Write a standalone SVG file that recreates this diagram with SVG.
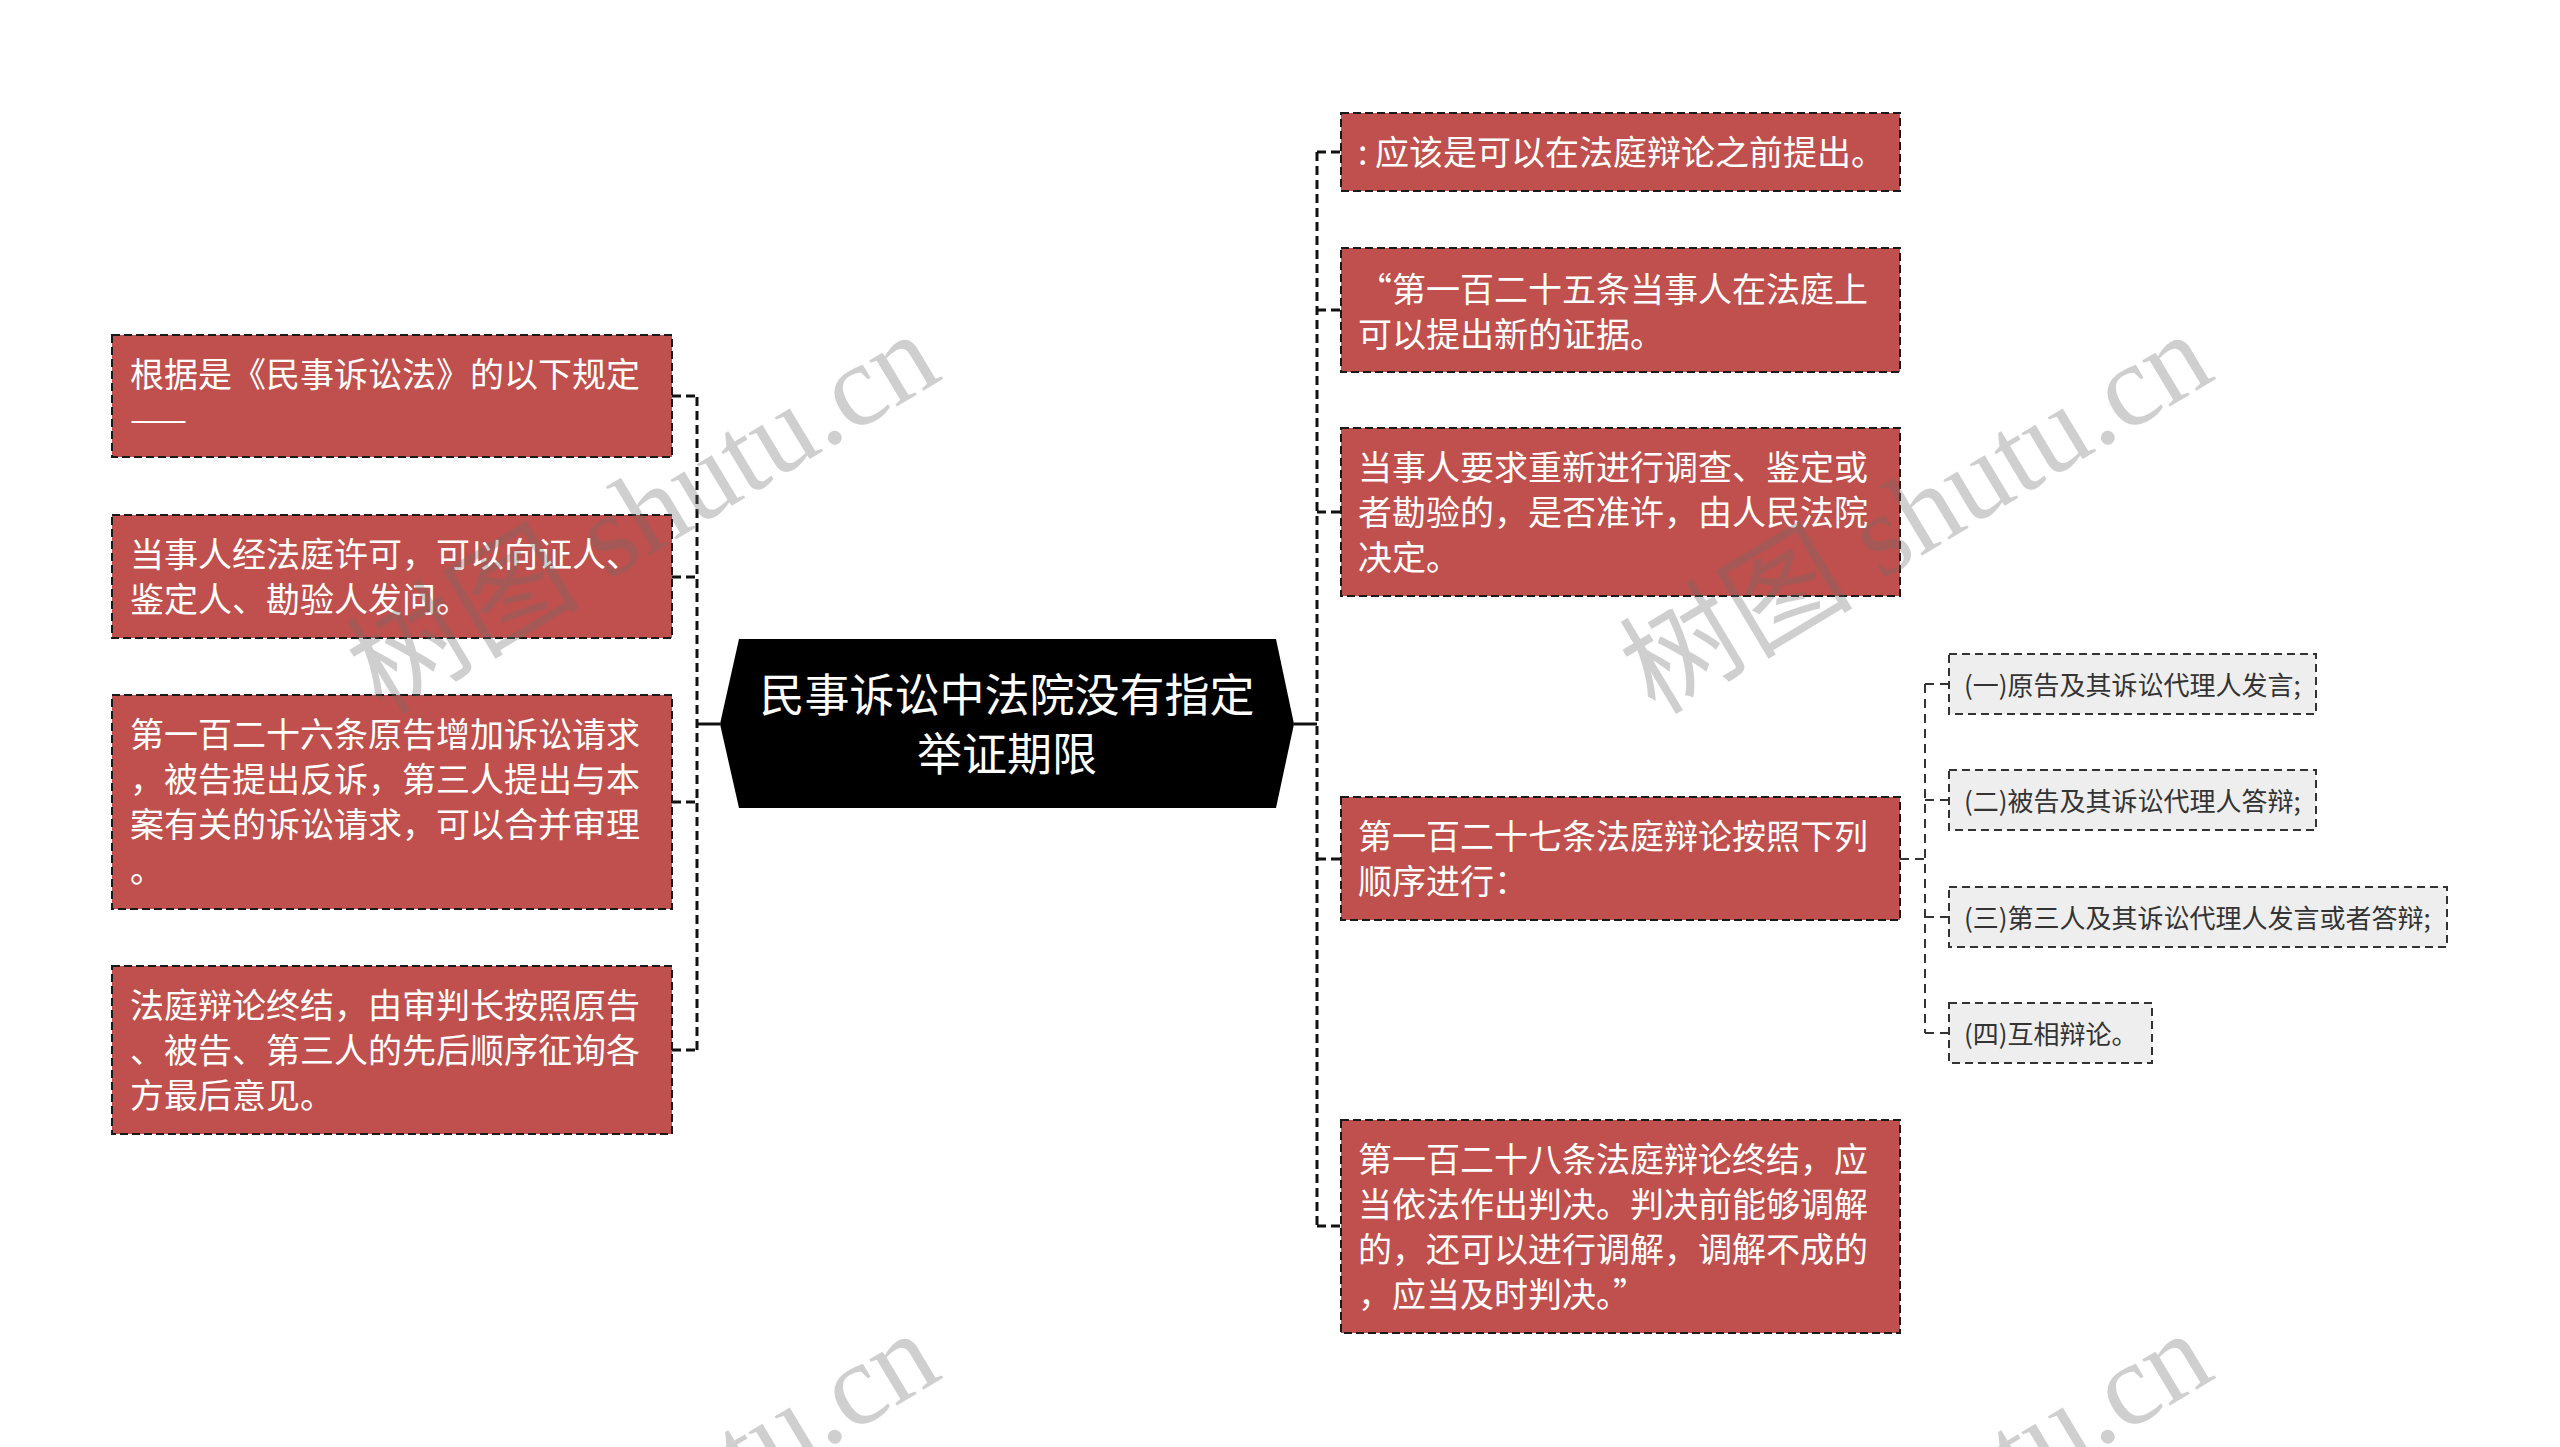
<svg xmlns="http://www.w3.org/2000/svg" width="2560" height="1447" viewBox="0 0 2560 1447">
<defs>
<style>
.bg{fill:#ffffff}
.main rect{fill:#c0504d;stroke:#1a1a1a;stroke-width:2;stroke-dasharray:8 4}
.main text{fill:#ffffff;font-family:"Noto Sans CJK SC","Microsoft YaHei",sans-serif;font-size:34px;dominant-baseline:central}
.sub rect{fill:#eeeeee;stroke:#333333;stroke-width:2;stroke-dasharray:8 5}
.sub text{fill:#333333;font-family:"Noto Sans CJK SC","Microsoft YaHei",sans-serif;font-size:26px;dominant-baseline:central}
.root path{fill:#000000}
.root text{fill:#ffffff;font-family:"Noto Sans CJK SC","Microsoft YaHei",sans-serif;font-size:45px;text-anchor:middle;dominant-baseline:central}
.dash{fill:none;stroke:#111111;stroke-width:3;stroke-dasharray:9 5}
.dash2{fill:none;stroke:#333333;stroke-width:2;stroke-dasharray:9 6}
.solid{fill:none;stroke:#111111;stroke-width:3}
.wm{fill:#6e6e6e;fill-opacity:0.33;font-family:"Liberation Serif","Noto Sans CJK SC",serif;font-size:117px}
</style>
</defs>
<rect class="bg" x="0" y="0" width="2560" height="1447"/>

<g id="connectors">
<path class="solid" d="M697,724 H720"/>
<path class="dash" d="M697,397 V1050"/>
<path class="dash" d="M672,396 H697 M672,577 H697 M672,802 H697 M672,1050 H697"/>
<path class="solid" d="M1294,724 H1317"/>
<path class="dash" d="M1317,152 V1226"/>
<path class="dash" d="M1317,152 H1341 M1317,310 H1341 M1317,512 H1341 M1317,859 H1341 M1317,1226 H1341"/>
<path class="dash2" d="M1900,859 H1925 M1925,684 V1033 M1925,684 H1949 M1925,800 H1949 M1925,917 H1949 M1925,1033 H1949"/>
</g>

<g id="root" class="root">
<path d="M739,639 H1276 L1294,724 L1276,808 H739 L720,724 Z"/>
<text x="1007" y="692">民事诉讼中法院没有指定</text>
<text x="1007" y="751">举证期限</text>
</g>

<g id="node-l1" class="main">
<rect x="112" y="335" width="560" height="122"/>
<text x="130" y="372">根据是《民事诉讼法》的以下规定</text>
<text x="130" y="417">——</text>
</g>
<g id="node-l2" class="main">
<rect x="112" y="515" width="560" height="123"/>
<text x="130" y="552">当事人经法庭许可，可以向证人、</text>
<text x="130" y="597">鉴定人、勘验人发问。</text>
</g>
<g id="node-l3" class="main">
<rect x="112" y="695" width="560" height="214"/>
<text x="130" y="732">第一百二十六条原告增加诉讼请求</text>
<text x="130" y="777">，被告提出反诉，第三人提出与本</text>
<text x="130" y="822">案有关的诉讼请求，可以合并审理</text>
<text x="130" y="867">。</text>
</g>
<g id="node-l4" class="main">
<rect x="112" y="966" width="560" height="168"/>
<text x="130" y="1003">法庭辩论终结，由审判长按照原告</text>
<text x="130" y="1048">、被告、第三人的先后顺序征询各</text>
<text x="130" y="1093">方最后意见。</text>
</g>

<g id="node-r1" class="main">
<rect x="1341" y="113" width="559" height="78"/>
<text x="1358" y="150">: 应该是可以在法庭辩论之前提出。</text>
</g>
<g id="node-r2" class="main">
<rect x="1341" y="248" width="559" height="124"/>
<text x="1358" y="287">“第一百二十五条当事人在法庭上</text>
<text x="1358" y="332">可以提出新的证据。</text>
</g>
<g id="node-r3" class="main">
<rect x="1341" y="428" width="559" height="168"/>
<text x="1358" y="465">当事人要求重新进行调查、鉴定或</text>
<text x="1358" y="510">者勘验的，是否准许，由人民法院</text>
<text x="1358" y="555">决定。</text>
</g>
<g id="node-r4" class="main">
<rect x="1341" y="797" width="559" height="123"/>
<text x="1358" y="834">第一百二十七条法庭辩论按照下列</text>
<text x="1358" y="879">顺序进行：</text>
</g>
<g id="node-r5" class="main">
<rect x="1341" y="1120" width="559" height="213"/>
<text x="1358" y="1157">第一百二十八条法庭辩论终结，应</text>
<text x="1358" y="1202">当依法作出判决。判决前能够调解</text>
<text x="1358" y="1247">的，还可以进行调解，调解不成的</text>
<text x="1358" y="1292">，应当及时判决。”</text>
</g>

<g id="node-s1" class="sub">
<rect x="1949" y="654" width="367" height="60"/>
<text x="1964" y="683">(一)原告及其诉讼代理人发言;</text>
</g>
<g id="node-s2" class="sub">
<rect x="1949" y="770" width="367" height="60"/>
<text x="1964" y="799">(二)被告及其诉讼代理人答辩;</text>
</g>
<g id="node-s3" class="sub">
<rect x="1949" y="887" width="498" height="60"/>
<text x="1964" y="916">(三)第三人及其诉讼代理人发言或者答辩;</text>
</g>
<g id="node-s4" class="sub">
<rect x="1949" y="1003" width="203" height="60"/>
<text x="1964" y="1032">(四)互相辩论。</text>
</g>

<g id="watermark">
<text class="wm" transform="translate(382,716) rotate(-31)">树图 shutu.cn</text>
<text class="wm" transform="translate(1655,716) rotate(-31)">树图 shutu.cn</text>
<text class="wm" transform="translate(382,1715) rotate(-31)">树图 shutu.cn</text>
<text class="wm" transform="translate(1655,1715) rotate(-31)">树图 shutu.cn</text>
</g>
</svg>
